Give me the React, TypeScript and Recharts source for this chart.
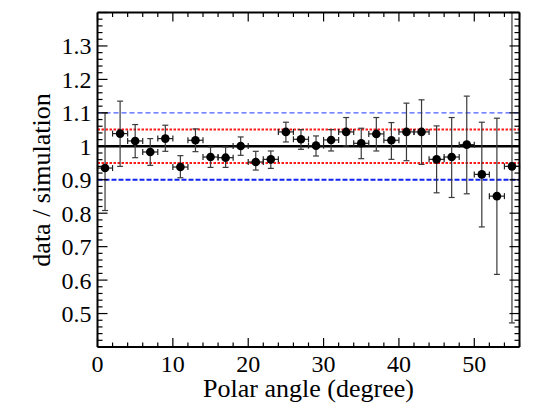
import { ScatterChart, Scatter, XAxis, YAxis, ErrorBar, ReferenceLine, Label } from 'recharts';

// bin centres in degrees, ratio data / simulation and its errors
const polarAngle = [1, 3, 5, 7, 9, 11, 13, 15, 17, 19, 21, 23, 25, 27, 29, 31, 33, 35, 37, 39, 41, 43, 45, 47, 49, 51, 53, 55];
const ratio = [0.935, 1.038, 1.016, 0.983, 1.023, 0.938, 1.018, 0.968, 0.966, 1.001, 0.953, 0.961, 1.043, 1.021, 1.002, 1.019, 1.043, 1.009, 1.037, 1.018, 1.043, 1.043, 0.961, 0.968, 1.005, 0.916, 0.851, 0.94];
const errUp = [0.165, 0.097, 0.049, 0.04, 0.04, 0.034, 0.034, 0.03, 0.032, 0.027, 0.032, 0.025, 0.029, 0.029, 0.029, 0.031, 0.043, 0.045, 0.049, 0.053, 0.086, 0.096, 0.1, 0.118, 0.145, 0.156, 0.233, 0.46];
const errDown = [0.127, 0.098, 0.05, 0.04, 0.038, 0.032, 0.034, 0.031, 0.029, 0.028, 0.024, 0.027, 0.03, 0.03, 0.031, 0.033, 0.042, 0.046, 0.051, 0.057, 0.086, 0.097, 0.1, 0.121, 0.147, 0.157, 0.234, 0.468];
const binHalfWidth = [1, 1, 1, 1, 1, 1, 1, 1, 1, 1, 1, 1, 1, 1, 1, 1, 1, 1, 1, 1, 1, 1, 1, 1, 1, 1, 1, 1];

const unityLine = 1;
const band5 = [0.95, 1.05];
const band10 = [0.9, 1.1];

const xDomain = [0, 56];
const yDomain = [0.4, 1.4];
const xTickLabels = [0, 10, 20, 30, 40, 50];
const yTickLabels = [0.5, 0.6, 0.7, 0.8, 0.9, 1, 1.1, 1.2, 1.3];

const steps = (from: number, to: number, step: number) => {
  const out: number[] = [];
  for (let v = from; v <= to + 1e-9; v += step) out.push(Math.round(v * 1000) / 1000);
  return out;
};
const xAllTicks = steps(0, 56, 2);
const yAllTicks = steps(0.4, 1.4, 0.02);

const isMajorX = (v: number) => Math.abs(v / 10 - Math.round(v / 10)) < 1e-6;
const isMajorY = (v: number) => Math.abs(v * 10 - Math.round(v * 10)) < 1e-6;
const hasLabel = (list: number[], v: number) => list.some((t) => Math.abs(t - v) < 1e-6);

const serif = 'Liberation Serif, Tinos, Times New Roman, DejaVu Serif, serif';
const frame = { stroke: '#000', strokeWidth: 2 };
const X_MARGIN = 7.5;
const Y_MARGIN = 6;

const BottomLabel = (p: any) => {
  const v = p.payload.value;
  if (!hasLabel(xTickLabels, v)) return <g />;
  return (
    <text x={p.x} y={p.y} dy="0.71em" textAnchor="middle" fontSize={24} fill="#000" style={{ fontFamily: serif }}>
      {v}
    </text>
  );
};

const NoTick = () => <g />;

// inward x tick marks at the top and bottom of the frame, drawn on a reference line's end points
const xTickShape = (len: number) => (p: any) => {
  const yb = Math.max(p.y1, p.y2);
  const yt = Math.min(p.y1, p.y2);
  return (
    <g>
      <line x1={p.x1} x2={p.x1} y1={yb} y2={yb - len} stroke="#000" strokeWidth={1.2} />
      <line x1={p.x1} x2={p.x1} y1={yt} y2={yt + len} stroke="#000" strokeWidth={1.2} />
    </g>
  );
};

const LeftTick = (p: any) => {
  const v = p.payload.value;
  const x0 = p.x + Y_MARGIN;
  const len = isMajorY(v) ? 10 : 5;
  return (
    <g>
      <path d={`M${x0},${p.y}H${x0 + len}`} stroke="#000" strokeWidth={1.2} fill="none" />
      {hasLabel(yTickLabels, v) && (
        <text x={p.x} y={p.y} dy="0.355em" textAnchor="end" fontSize={24} fill="#000" style={{ fontFamily: serif }}>
          {v}
        </text>
      )}
    </g>
  );
};

const RightTick = (p: any) => {
  const len = isMajorY(p.payload.value) ? 10 : 5;
  return <path d={`M${p.x},${p.y}H${p.x - len}`} stroke="#000" strokeWidth={1.2} fill="none" />;
};

const Dot = (props: any) => <circle cx={props.cx} cy={props.cy} r={4.3} fill="#000" />;

const App = () => {
  const points = polarAngle.map((x, i) => ({
    x,
    y: ratio[i],
    ex: binHalfWidth[i],
    ey: [errDown[i], errUp[i]],
  }));

  return (
    <div style={{ position: 'absolute', left: 0, top: 0, width: 533, height: 407, background: '#fff', fontFamily: serif }}>
      <ScatterChart width={533} height={407} margin={{ top: 0, right: 0, bottom: 0, left: 0 }}>
        <XAxis
          xAxisId="main"
          type="number"
          dataKey="x"
          domain={xDomain}
          ticks={xAllTicks}
          interval={0}
          height={60}
          tickSize={0}
          tickLine={false}
          tickMargin={X_MARGIN}
          tick={BottomLabel}
          axisLine={frame}
          allowDataOverflow
        >
          <Label value="Polar angle (degree)" position="insideBottom" offset={10} fontSize={26} fill="#000" style={{ fontFamily: serif }} />
        </XAxis>
        <XAxis
          xAxisId="top"
          orientation="top"
          type="number"
          domain={xDomain}
          ticks={xTickLabels}
          interval={0}
          height={12.5}
          tickSize={0}
          tickLine={false}
          tick={NoTick}
          axisLine={frame}
          allowDataOverflow
        />
        <YAxis
          yAxisId="main"
          type="number"
          dataKey="y"
          domain={yDomain}
          ticks={yAllTicks}
          interval={0}
          width={97.5}
          tickSize={0}
          tickLine={false}
          tickMargin={Y_MARGIN}
          tick={LeftTick}
          axisLine={frame}
          allowDataOverflow
        >
          <Label
            content={() => (
              <text x={50} y={180} transform="rotate(-90 50 180)" textAnchor="middle" fontSize={26} fill="#000" style={{ fontFamily: serif }}>
                data / simulation
              </text>
            )}
          />
        </YAxis>
        <YAxis
          yAxisId="right"
          orientation="right"
          type="number"
          domain={yDomain}
          ticks={yAllTicks}
          interval={0}
          width={13.5}
          tickSize={0}
          tickLine={false}
          tickMargin={0}
          tick={RightTick}
          axisLine={frame}
          allowDataOverflow
        />

        {xAllTicks.map((v) => (
          <ReferenceLine key={`xt${v}`} xAxisId="main" yAxisId="main" x={v} ifOverflow="visible" shape={xTickShape(isMajorX(v) ? 9 : 4.5)} />
        ))}

        <ReferenceLine xAxisId="main" yAxisId="main" y={band10[1]} stroke="#4a5cff" strokeWidth={1.2} strokeDasharray="5 3" />
        <ReferenceLine xAxisId="main" yAxisId="main" y={band10[0]} stroke="#1122ee" strokeWidth={2} strokeDasharray="5 2" />
        <ReferenceLine xAxisId="main" yAxisId="main" y={band5[1]} stroke="#ff1a1a" strokeWidth={2} strokeDasharray="2.5 1.5" />
        <ReferenceLine xAxisId="main" yAxisId="main" y={band5[0]} stroke="#ff1a1a" strokeWidth={2} strokeDasharray="2.5 1.5" />
        <ReferenceLine xAxisId="main" yAxisId="main" y={unityLine} stroke="#000" strokeWidth={2.6} />

        <Scatter xAxisId="main" yAxisId="main" data={points} isAnimationActive={false} shape={Dot}>
          <ErrorBar dataKey="ey" direction="y" width={3} stroke="#3a3a3a" strokeWidth={1.2} isAnimationActive={false} />
          <ErrorBar dataKey="ex" direction="x" width={3} stroke="#222" strokeWidth={1.2} isAnimationActive={false} />
        </Scatter>
      </ScatterChart>
    </div>
  );
};

export default App;
